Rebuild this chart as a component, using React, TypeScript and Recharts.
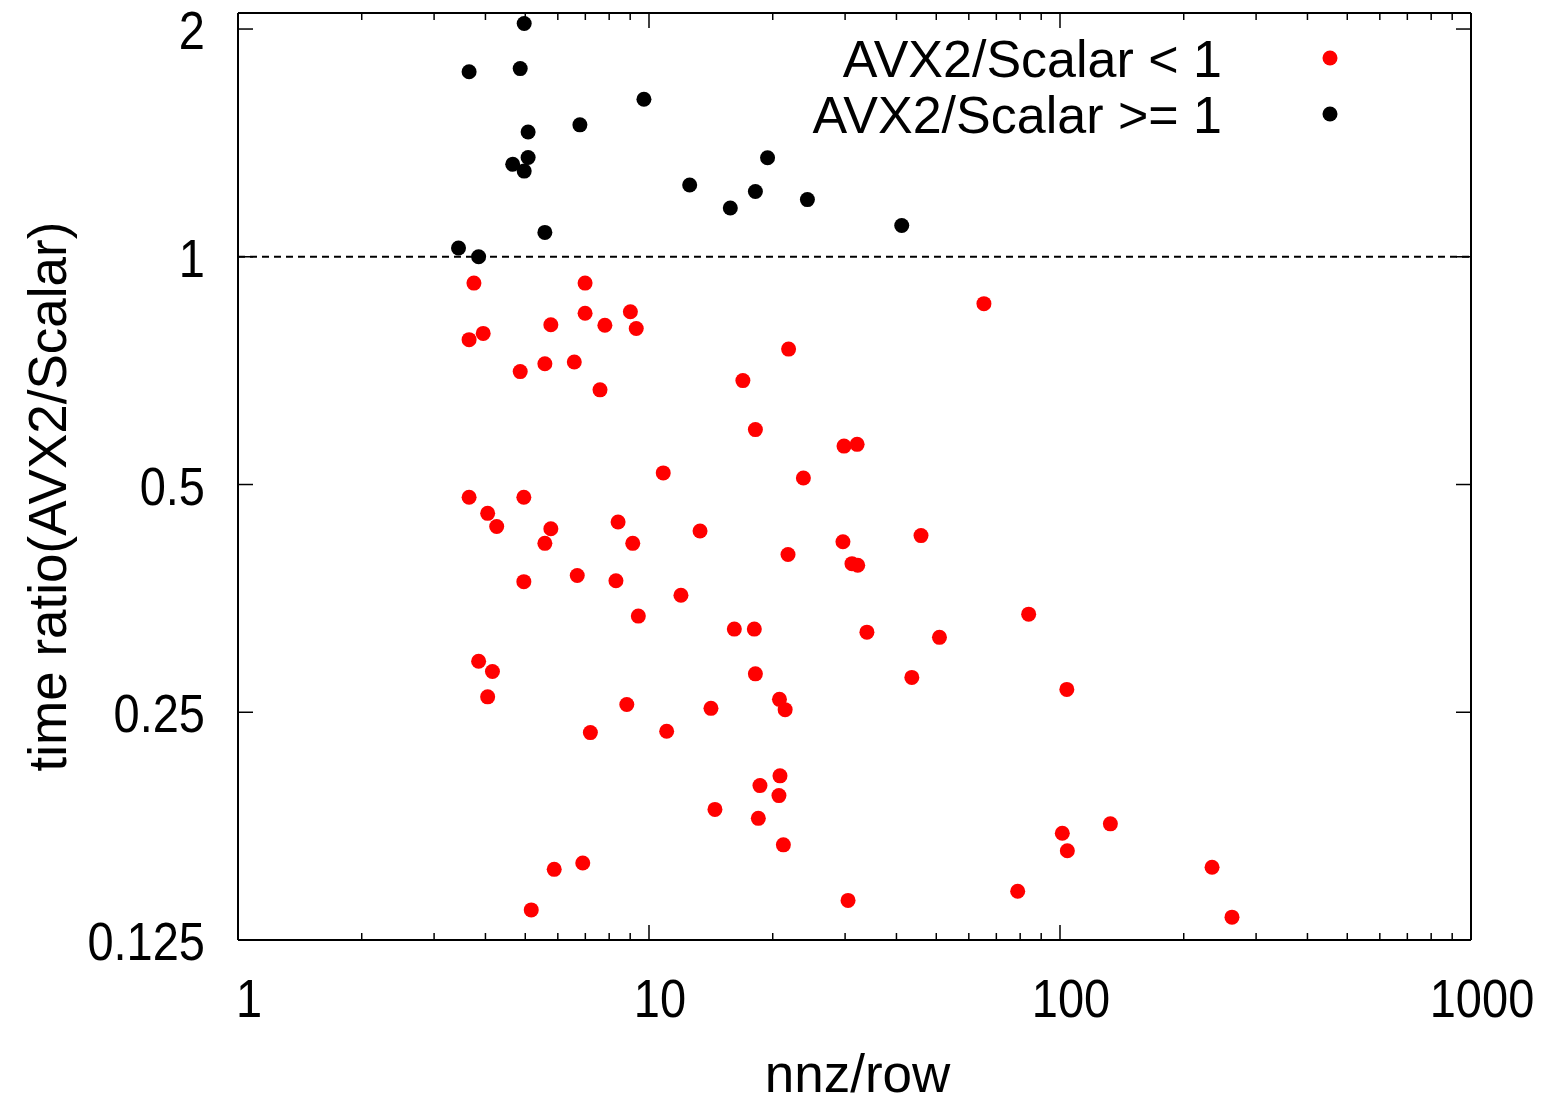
import React from 'react';
import { ScatterChart, Scatter, XAxis, YAxis, ReferenceLine, Legend } from 'recharts';

const FONT = '"Liberation Sans", Arial, sans-serif';

const xMajorTicks = [1, 10, 100, 1000];
const xMinorTicks = [2, 3, 4, 5, 6, 7, 8, 9, 20, 30, 40, 50, 60, 70, 80, 90, 200, 300, 400, 500, 600, 700, 800, 900];
const xAllTicks = [...xMajorTicks, ...xMinorTicks].sort((a, b) => a - b);
const yTicks = [0.125, 0.25, 0.5, 1, 2];
const yTickLabels = ['0.125', '0.25', '0.5', '1', '2'];

const redX = [3.75, 6.99, 6.99, 9.01, 5.77, 7.81, 9.31, 3.65, 3.95, 4.86,
  5.58, 6.58, 7.60, 10.83, 3.65, 4.96, 4.05, 4.26, 5.77, 5.58,
  8.41, 9.13, 13.31, 4.96, 6.69, 8.31, 11.96, 65.3, 21.86, 16.92,
  18.15, 29.82, 32.09, 23.75, 21.79, 29.64, 31.18, 32.2, 45.9, 9.42,
  3.85, 4.16, 4.05, 8.83, 7.20, 11.04, 5.88, 6.90, 5.17, 16.13,
  18.04, 33.9, 50.9, 83.9, 18.15, 43.6, 103.9, 14.15, 20.77, 21.44,
  20.83, 18.62, 20.71, 14.47, 18.45, 21.23, 101.3, 132.6, 104.2, 234.4,
  78.9, 30.5, 262.1];
const redY = [0.923, 0.923, 0.842, 0.846, 0.813, 0.812, 0.804, 0.777, 0.792, 0.705,
  0.722, 0.726, 0.667, 0.518, 0.481, 0.481, 0.458, 0.440, 0.437, 0.418,
  0.446, 0.418, 0.434, 0.372, 0.379, 0.373, 0.357, 0.867, 0.755, 0.686,
  0.591, 0.562, 0.565, 0.510, 0.404, 0.420, 0.393, 0.391, 0.428, 0.335,
  0.292, 0.283, 0.262, 0.256, 0.235, 0.236, 0.155, 0.158, 0.137, 0.322,
  0.322, 0.319, 0.314, 0.337, 0.281, 0.278, 0.268, 0.253, 0.260, 0.252,
  0.206, 0.200, 0.194, 0.186, 0.181, 0.167, 0.173, 0.178, 0.164, 0.156,
  0.145, 0.141, 0.134];

const blackX = [4.97, 3.65, 4.86, 9.72, 6.79, 5.08, 5.08, 4.66, 4.97, 12.56,
  5.58, 3.44, 3.85, 19.43, 15.77, 18.15, 24.29, 41.2];
const blackY = [2.034, 1.756, 1.773, 1.615, 1.494, 1.462, 1.353, 1.325, 1.298, 1.244,
  1.077, 1.027, 1.0, 1.352, 1.16, 1.22, 1.19, 1.10];

const seriesNames = ['AVX2/Scalar < 1', 'AVX2/Scalar >= 1'];
const seriesColors = ['#ff0000', '#000000'];

const redData = redX.map((x, i) => ({ x, y: redY[i] }));
const blackData = blackX.map((x, i) => ({ x, y: blackY[i] }));

const BottomTick = (props: any) => {
  const { x, y, payload } = props;
  const v = payload.value;
  const major = xMajorTicks.includes(v);
  return (
    <g>
      <line x1={x} y1={y} x2={x} y2={y - (major ? 15 : 7)} stroke="#000" strokeWidth={1.5} />
      {major && (
        <text transform={`translate(${x + 11},${y + 77}) scale(1,1.15)`} textAnchor="middle"
          fontSize={47} fontFamily={FONT} fill="#000">{String(v)}</text>
      )}
    </g>
  );
};

const TopTick = (props: any) => {
  const { x, y, payload } = props;
  const major = xMajorTicks.includes(payload.value);
  return <line x1={x} y1={y} x2={x} y2={y + (major ? 15 : 7)} stroke="#000" strokeWidth={1.5} />;
};

const LeftTick = (props: any) => {
  const { x, y, payload } = props;
  const idx = yTicks.indexOf(payload.value);
  return (
    <g>
      <line x1={x} y1={y} x2={x + 15} y2={y} stroke="#000" strokeWidth={1.5} />
      <text transform={`translate(${x - 33},${y + 20}) scale(1,1.15)`} textAnchor="end"
        fontSize={47} fontFamily={FONT} fill="#000">{yTickLabels[idx]}</text>
    </g>
  );
};

const RightTick = (props: any) => {
  const { x, y } = props;
  return <line x1={x} y1={y} x2={x - 15} y2={y} stroke="#000" strokeWidth={1.5} />;
};

const XTitle = (props: any) => {
  const vb = props.viewBox || { x: 238, y: 940, width: 1233, height: 164 };
  return (
    <text x={vb.x + vb.width / 2 + 3} y={vb.y + 152} textAnchor="middle" fontSize={53}
      fontFamily={FONT} fill="#000">nnz/row</text>
  );
};

const YTitle = (props: any) => {
  const vb = props.viewBox || { x: 0, y: 13, width: 238, height: 927 };
  const cy = vb.y + vb.height / 2 + 20;
  return (
    <text transform={`translate(47,${cy}) rotate(-90)`} textAnchor="middle" dominantBaseline="central"
      fontSize={53} fontFamily={FONT} fill="#000">time ratio(AVX2/Scalar)</text>
  );
};

const LegendBox = () => (
  <svg width={660} height={140} style={{ display: 'block', overflow: 'visible' }}>
    {seriesNames.map((name, i) => (
      <g key={name}>
        <text x={514} y={68.5 + i * 56} textAnchor="end" fontSize={52} fontFamily={FONT} fill="#000">{name}</text>
        <circle cx={622} cy={50 + i * 56} r={7.5} fill={seriesColors[i]} />
      </g>
    ))}
  </svg>
);

const dot = (color: string) => (props: any) => (
  <circle cx={props.cx} cy={props.cy} r={7.5} fill={color} />
);

export default function App() {
  return (
    <div style={{ width: 1541, height: 1104, margin: -8 }}>
      <ScatterChart width={1541} height={1104} margin={{ top: 12, right: 69, left: 0, bottom: 0 }}>
        <XAxis xAxisId="b" dataKey="x" type="number" scale="log" domain={[1, 1000]} allowDataOverflow
          ticks={xAllTicks} interval={0} tick={<BottomTick />} tickSize={0} tickMargin={0} tickLine={false}
          axisLine={{ stroke: '#000', strokeWidth: 2 }} height={164} orientation="bottom"
          label={<XTitle />} />
        <XAxis xAxisId="t" dataKey="x" type="number" scale="log" domain={[1, 1000]} allowDataOverflow
          ticks={xAllTicks} interval={0} tick={<TopTick />} tickSize={0} tickMargin={0} tickLine={false}
          axisLine={{ stroke: '#000', strokeWidth: 2 }} height={1} orientation="top" />
        <YAxis yAxisId="l" dataKey="y" type="number" scale="log" domain={[0.125, 2.1]} allowDataOverflow
          ticks={yTicks} interval={0} tick={<LeftTick />} tickSize={0} tickMargin={0} tickLine={false}
          axisLine={{ stroke: '#000', strokeWidth: 2 }} width={238} orientation="left"
          label={<YTitle />} />
        <YAxis yAxisId="r" dataKey="y" type="number" scale="log" domain={[0.125, 2.1]} allowDataOverflow
          ticks={yTicks} interval={0} tick={<RightTick />} tickSize={0} tickMargin={0} tickLine={false}
          axisLine={{ stroke: '#000', strokeWidth: 2 }} width={1} orientation="right" />
        <ReferenceLine xAxisId="b" yAxisId="l" y={1} stroke="#000" strokeWidth={1.8} strokeDasharray="7 5" />
        <Legend layout="vertical" align="center" verticalAlign="middle"
          wrapperStyle={{ top: 8, left: 708, width: 660, height: 140 }} content={() => <LegendBox />} />
        <Scatter name={seriesNames[0]} data={redData} xAxisId="b" yAxisId="l" fill={seriesColors[0]}
          shape={dot(seriesColors[0])} isAnimationActive={false} />
        <Scatter name={seriesNames[1]} data={blackData} xAxisId="t" yAxisId="r" fill={seriesColors[1]}
          shape={dot(seriesColors[1])} isAnimationActive={false} />
      </ScatterChart>
    </div>
  );
}
